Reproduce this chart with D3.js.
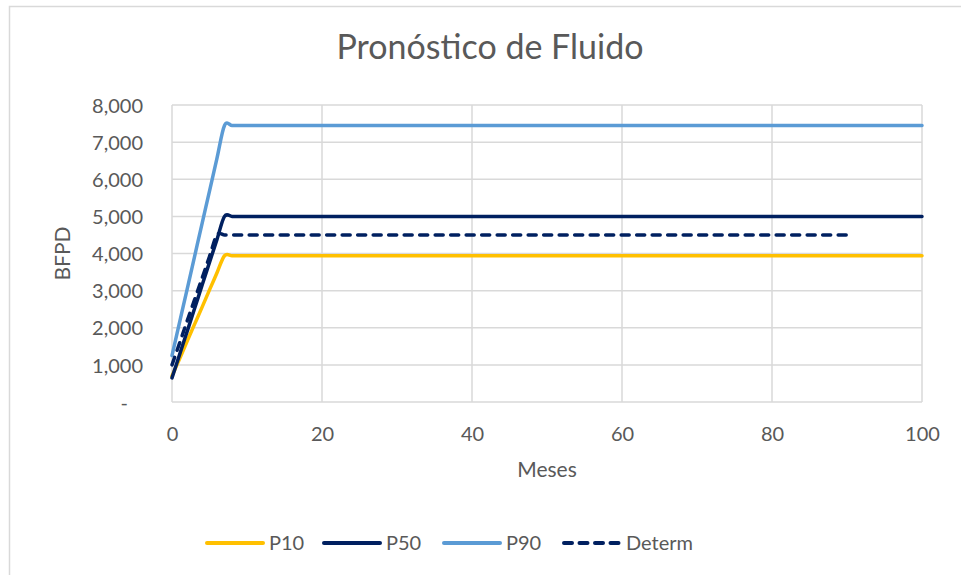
<!DOCTYPE html>
<html>
<head>
<meta charset="utf-8">
<script src="https://cdn.jsdelivr.net/npm/d3@7"></script>
<style>
  html, body { margin: 0; padding: 0; background: #fff; }
  svg { display: block; }
  text { font-family: Lato, "Open Sans", sans-serif; fill: #595959; }
</style>
</head>
<body>
<svg id="chart" width="961" height="575"></svg>
<script>
// Monthly forecast of fluid rate (BFPD): ramp-up months, then the plateau to the horizon
const monthsRamp7 = [0, 1, 2, 3, 4, 5, 6, 7, 8, 9, 100];
const monthsRamp6 = [0, 1, 2, 3, 4, 5, 6, 7, 8, 90];

const p10Values = [700, 1160, 1630, 2090, 2550, 3020, 3480, 3940, 3940, 3940, 3940];
const p50Values = [650, 1270, 1890, 2510, 3140, 3760, 4380, 5000, 5000, 5000, 5000];
const p90Values = [1250, 2140, 3020, 3910, 4800, 5680, 6570, 7450, 7450, 7450, 7450];
const determValues = [1000, 1580, 2170, 2750, 3330, 3920, 4500, 4500, 4500, 4500];

const yTicks = [0, 1000, 2000, 3000, 4000, 5000, 6000, 7000, 8000];
const xTicks = [0, 20, 40, 60, 80, 100];

const seriesNames = ["P10", "P50", "P90", "Determ"];
const seriesColors = ["#FFC000", "#002060", "#5B9BD5", "#002060"];

const series = [
  { name: seriesNames[0], months: monthsRamp7, values: p10Values, color: seriesColors[0], dashed: false },
  { name: seriesNames[1], months: monthsRamp7, values: p50Values, color: seriesColors[1], dashed: false },
  { name: seriesNames[2], months: monthsRamp7, values: p90Values, color: seriesColors[2], dashed: false },
  { name: seriesNames[3], months: monthsRamp6, values: determValues, color: seriesColors[3], dashed: true }
];

const svg = d3.select("#chart");
const plot = { left: 172, right: 922, top: 105, bottom: 402 };

// chart area border
svg.append("rect")
  .attr("x", 9.5).attr("y", 6.5)
  .attr("width", 970).attr("height", 580)
  .attr("fill", "#fff")
  .attr("stroke", "#d9d9d9").attr("stroke-width", 1.5);

const x = d3.scaleLinear().domain([0, 100]).range([plot.left, plot.right]);
const y = d3.scaleLinear().domain([0, 8000]).range([plot.bottom, plot.top]);

// gridlines
const grid = svg.append("g").attr("stroke", "#d9d9d9").attr("stroke-width", 1.5);
grid.selectAll("line.h").data(yTicks).join("line")
  .attr("class", "h")
  .attr("x1", plot.left).attr("x2", plot.right)
  .attr("y1", d => y(d)).attr("y2", d => y(d));
grid.selectAll("line.v").data(xTicks).join("line")
  .attr("class", "v")
  .attr("y1", plot.top).attr("y2", plot.bottom)
  .attr("x1", d => x(d)).attr("x2", d => x(d));

// y axis labels
const yAxis = d3.axisLeft(y)
  .tickValues(yTicks)
  .tickSize(0)
  .tickPadding(29)
  .tickFormat(d => d === 0 ? "-" : d3.format(",")(d));
const gy = svg.append("g").attr("transform", `translate(${plot.left},0)`).call(yAxis);
gy.select(".domain").remove();
gy.selectAll("text")
  .attr("font-size", 20)
  .attr("font-family", "Lato, 'Open Sans', sans-serif")
  .attr("fill", "#595959")
  .attr("dy", "0.36em");
gy.selectAll(".tick").filter(d => d === 0).select("text").attr("dx", -15);

// x axis labels
const xAxis = d3.axisBottom(x).tickValues(xTicks).tickSize(0).tickPadding(25);
const gx = svg.append("g").attr("transform", `translate(0,${plot.bottom})`).call(xAxis);
gx.select(".domain").remove();
gx.selectAll("text")
  .attr("font-size", 20)
  .attr("font-family", "Lato, 'Open Sans', sans-serif")
  .attr("fill", "#595959")
  .attr("dy", "0.71em");

// series lines: smoothed through the monthly ramp, straight along the plateau
const smooth = d3.line()
  .x(d => x(d[0]))
  .y(d => y(d[1]))
  .curve(d3.curveCatmullRom.alpha(0));

function seriesPath(s) {
  const pts = s.months.map((m, i) => [m, s.values[i]]);
  const head = pts.slice(0, pts.length - 1);
  const last = pts[pts.length - 1];
  return smooth(head) + "L" + x(last[0]) + "," + y(last[1]);
}

series.forEach(s => {
  svg.append("path")
    .attr("fill", "none")
    .attr("stroke", s.color)
    .attr("stroke-width", 3.5)
    .attr("stroke-linejoin", "round")
    .attr("stroke-linecap", "round")
    .attr("stroke-dasharray", s.dashed ? "8,7.5" : null)
    .attr("d", seriesPath(s));
});

// title
svg.append("text")
  .attr("x", 490).attr("y", 59)
  .attr("text-anchor", "middle")
  .attr("font-size", 34)
  .text("Pronóstico de Fluido");

// axis titles
svg.append("text")
  .attr("x", (plot.left + plot.right) / 2).attr("y", 477)
  .attr("text-anchor", "middle")
  .attr("font-size", 21)
  .text("Meses");

svg.append("text")
  .attr("transform", `translate(70,${(plot.top + plot.bottom) / 2}) rotate(-90)`)
  .attr("text-anchor", "middle")
  .attr("font-size", 21)
  .text("BFPD");

// legend
const legendX = [207, 324, 444, 564];
const legend = svg.append("g");
series.forEach((s, i) => {
  const lx = legendX[i];
  legend.append("line")
    .attr("x1", lx).attr("x2", lx + 56)
    .attr("y1", 543).attr("y2", 543)
    .attr("stroke", s.color)
    .attr("stroke-width", 4)
    .attr("stroke-linecap", "round")
    .attr("stroke-dasharray", s.dashed ? "8,7.5" : null);
  legend.append("text")
    .attr("x", lx + 62).attr("y", 543)
    .attr("dy", "0.36em")
    .attr("font-size", 20)
    .text(s.name);
});
</script>
</body>
</html>
